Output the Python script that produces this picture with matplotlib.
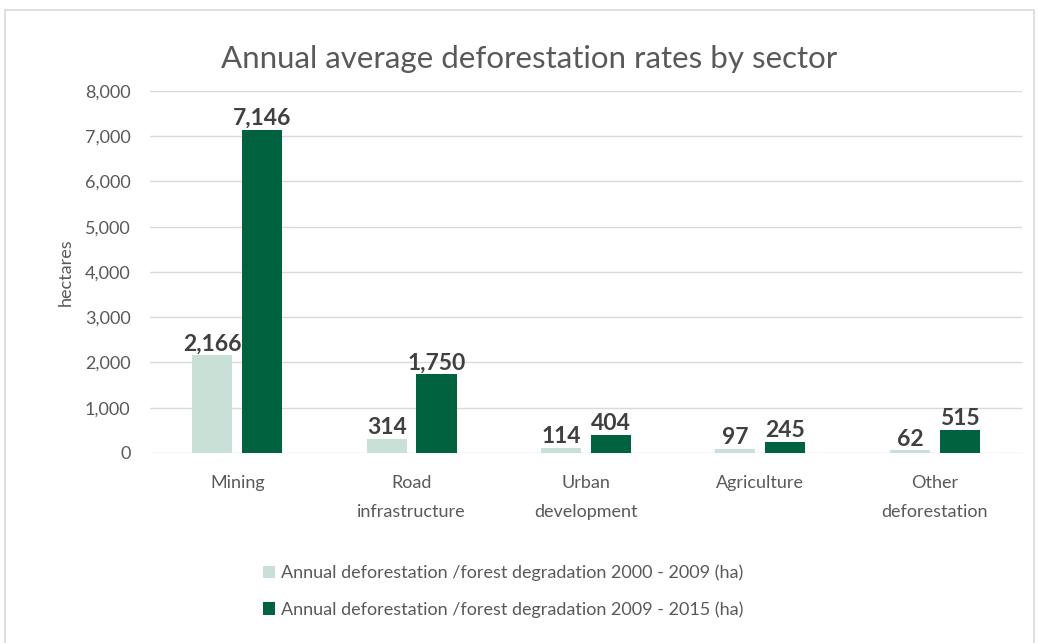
import numpy as np
import matplotlib.pyplot as plt
from matplotlib.patches import Rectangle

# data
sectors = ["Mining", "Road\ninfrastructure", "Urban\ndevelopment", "Agriculture", "Other\ndeforestation"]
rate_2000_2009 = [2166, 314, 114, 97, 62]
rate_2009_2015 = [7146, 1750, 404, 245, 515]
series_names = ["Annual deforestation /forest degradation 2000 - 2009 (ha)",
                "Annual deforestation /forest degradation 2009 - 2015 (ha)"]
yticks = np.arange(0, 8001, 1000)

light = "#c9e0d7"
dark = "#00623f"
txt = "#595959"

plt.rcParams['font.family'] = ['Lato', 'DejaVu Sans']

fig = plt.figure(figsize=(10.39, 6.43), dpi=100)
ax = fig.add_axes([0.1444, 0.2955, 0.8392, 0.563])

# light frame around the chart area
fig.patches.append(Rectangle((0.005, -0.01), 0.99, 0.995, transform=fig.transFigure,
                             fill=False, edgecolor="#d9d9d9", linewidth=1.2))

x = np.arange(len(sectors))
w = 0.23
off = 0.143
b1 = ax.bar(x - off, rate_2000_2009, w, color=light, zorder=3)
b2 = ax.bar(x + off, rate_2009_2015, w, color=dark, zorder=3)

for bars, vals in ((b1, rate_2000_2009), (b2, rate_2009_2015)):
    for r, v in zip(bars, vals):
        ax.text(r.get_x() + r.get_width() / 2, v + 10, f"{v:,}", ha="center", va="bottom",
                fontsize=16.5, fontweight="bold", color="#404040", zorder=4)

ax.set_xlim(-0.5, len(sectors) - 0.5)
ax.set_ylim(0, 8000)
ax.set_yticks(yticks)
ax.set_yticklabels([f"{t:,}" for t in yticks])
ax.set_xticks(x)
ax.set_xticklabels(sectors, linespacing=2.0)
ax.grid(axis="y", color="#d9d9d9", linewidth=1, zorder=0)
for s in ax.spines.values():
    s.set_visible(False)
ax.tick_params(length=0, labelsize=13, colors=txt)
ax.tick_params(axis="y", pad=14)
ax.tick_params(axis="x", pad=16)
ax.set_ylabel("hectares", fontsize=13, color=txt, labelpad=8)

fig.text(0.509, 0.909, "Annual average deforestation rates by sector", ha="center", va="center",
         fontsize=22.5, color=txt)

fig.legend([b1, b2], series_names, loc="upper left", bbox_to_anchor=(0.246, 0.133),
           ncol=1, frameon=False, fontsize=13, labelcolor=txt, handlelength=0.7,
           handleheight=0.7, handletextpad=0.3, labelspacing=1.1, borderaxespad=0)

fig.savefig("out.png", dpi=100)
